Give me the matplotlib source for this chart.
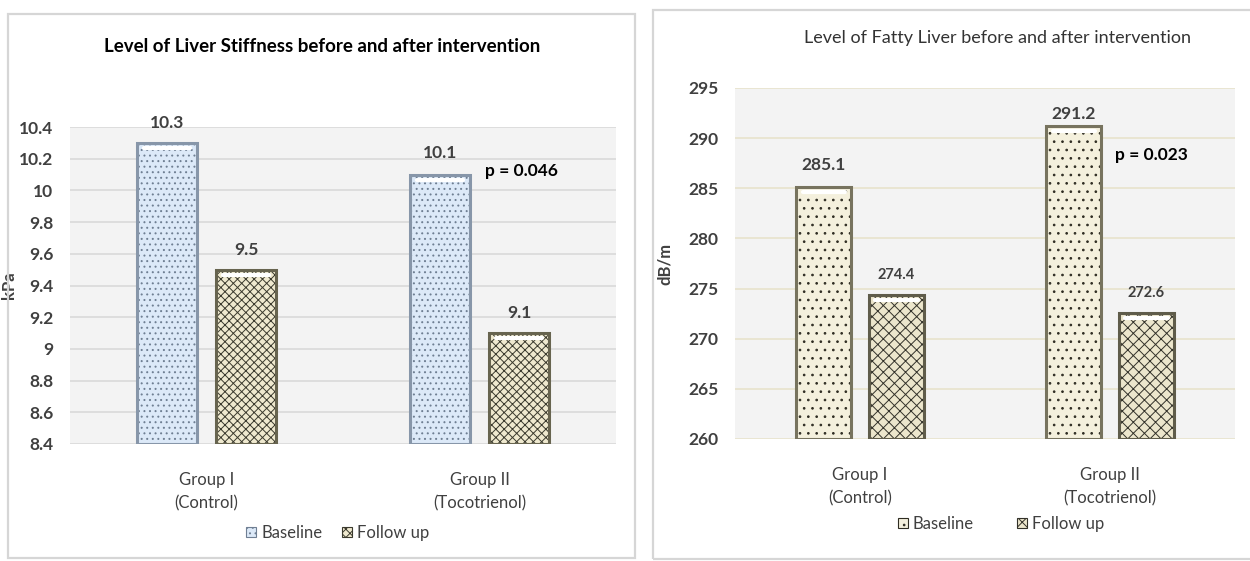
import matplotlib.pyplot as plt
from matplotlib.patches import Rectangle
from matplotlib.transforms import ScaledTranslation

# ===========================
# DATA
# ===========================
groups = ["Group I\n(Control)", "Group II\n(Tocotrienol)"]
series = ["Baseline", "Follow up"]

stiffness_baseline = [10.3, 10.1]
stiffness_followup = [9.5, 9.1]
stiffness_ticks = [8.4, 8.6, 8.8, 9.0, 9.2, 9.4, 9.6, 9.8, 10.0, 10.2, 10.4]
stiffness_tick_labels = ["8.4", "8.6", "8.8", "9", "9.2", "9.4", "9.6", "9.8", "10", "10.2", "10.4"]
stiffness_p = "p = 0.046"

fatty_baseline = [285.1, 291.2]
fatty_followup = [274.4, 272.6]
fatty_ticks = [260, 265, 270, 275, 280, 285, 290, 295]
fatty_p = "p = 0.023"

plt.rcParams["font.family"] = ["Lato", "DejaVu Sans"]
plt.rcParams["hatch.linewidth"] = 0.7

W, H = 1250, 561
fig = plt.figure(figsize=(W / 100, H / 100), dpi=100)
fig.patch.set_facecolor("white")


def px_axes(x0, y0, x1, y1):
    """Axes from pixel box (top-left origin)."""
    return fig.add_axes([x0 / W, 1 - y1 / H, (x1 - x0) / W, (y1 - y0) / H])


def panel_frame(x0, y0, x1, y1):
    fig.patches.append(Rectangle((x0 / W, 1 - y1 / H), (x1 - x0) / W, (y1 - y0) / H,
                                 transform=fig.transFigure, fill=False,
                                 edgecolor="#d6d6d6", linewidth=1.6))


def draw_bars(ax, xs, values, base, fill, hatch, hatch_col, edge):
    # hatch layer, then bevel-ish outline and a highlight under the top edge
    ax.bar(xs, [v - base for v in values], bottom=base, width=0.22,
           color=fill, hatch=hatch, edgecolor=hatch_col, linewidth=0, zorder=3)
    ax.bar(xs, [v - base for v in values], bottom=base, width=0.22,
           fill=False, edgecolor=edge, linewidth=2.2, zorder=4)
    shift = ax.transData + ScaledTranslation(0, -5 / 100, fig.dpi_scale_trans)
    for x, v in zip(xs, values):
        ax.plot([x - 0.085, x + 0.085], [v, v], color="white", linewidth=3,
                solid_capstyle="round", transform=shift, zorder=5)


def style_axes(ax, grid_col):
    ax.set_facecolor("#f3f3f3")
    for s in ax.spines.values():
        s.set_visible(False)
    ax.yaxis.grid(True, color=grid_col, linewidth=1.2, zorder=0)
    ax.set_axisbelow(True)
    ax.tick_params(length=0)
    ax.set_xlim(-0.5, 1.5)
    ax.set_xticks([0, 1])
    ax.set_xticklabels(groups, fontsize=12, color="#404040", linespacing=1.6)
    ax.tick_params(axis="x", pad=20)
    ax.tick_params(axis="y", pad=12, labelsize=12.5, labelcolor="#404040")


def value_labels(ax, xs, values, fmt, size, offsets):
    for x, v, off in zip(xs, values, offsets):
        ax.annotate(fmt.format(v), (x, v), xytext=(0, off), textcoords="offset pixels",
                    ha="center", va="center", fontsize=size, fontweight="bold",
                    color="#404040")


off_b, off_f = -0.145, 0.145
xb = [i + off_b for i in range(len(groups))]
xf = [i + off_f for i in range(len(groups))]

# ===========================
# LIVER STIFFNESS
# ===========================
panel_frame(8, 14, 635, 558)
ax1 = px_axes(70, 127, 616, 444)
style_axes(ax1, "#d9d9d9")
ax1.set_ylim(stiffness_ticks[0], stiffness_ticks[-1])
ax1.set_yticks(stiffness_ticks)
ax1.set_yticklabels(stiffness_tick_labels)
for lab in ax1.get_yticklabels():
    lab.set_fontweight("bold")

draw_bars(ax1, xb, stiffness_baseline, stiffness_ticks[0], "#dce9f8", "...", "#6f7f93", "#8796a9")
draw_bars(ax1, xf, stiffness_followup, stiffness_ticks[0], "#efe9cf", "xxxx", "#3b3a2e", "#67644f")
value_labels(ax1, xb, stiffness_baseline, "{:.1f}", 12.5, [20, 22])
value_labels(ax1, xf, stiffness_followup, "{:.1f}", 12.5, [20, 20])
ax1.text(1.02, 10.12, stiffness_p, fontsize=12.5, fontweight="bold", color="black",
         ha="left", va="center")
ax1.set_ylabel("kPa", fontsize=12, fontweight="bold", color="#404040")
ax1.yaxis.set_label_coords((17 - 70) / 546, 0.5)
ax1.set_title("Level of Liver Stiffness before and after intervention",
              fontsize=13.5, fontweight="bold", color="black", pad=0,
              x=(322 - 70) / 546, y=1 + (127 - 46) / 317, va="center")

h1 = [Rectangle((0, 0), 1, 1, facecolor="#dce9f8", edgecolor="#6f7f93", hatch="...", linewidth=0.8),
      Rectangle((0, 0), 1, 1, facecolor="#efe9cf", edgecolor="#3b3a2e", hatch="xxxx", linewidth=0.8)]
ax1.legend(h1, series, loc="center", bbox_to_anchor=((338 - 70) / 546, (444 - 533) / 317),
           ncol=2, frameon=False, fontsize=12, handlelength=0.6, handleheight=0.6,
           handletextpad=0.3, columnspacing=1.2, labelcolor="#404040")

# ===========================
# FATTY LIVER
# ===========================
panel_frame(653, 10, 1262, 559)
ax2 = px_axes(735, 88, 1235, 439)
style_axes(ax2, "#e8e3cc")
ax2.set_ylim(fatty_ticks[0], fatty_ticks[-1])
ax2.set_yticks(fatty_ticks)
for lab in ax2.get_yticklabels():
    lab.set_fontweight("bold")

draw_bars(ax2, xb, fatty_baseline, fatty_ticks[0], "#f4f0dd", "..", "#2e2c22", "#77735e")
draw_bars(ax2, xf, fatty_followup, fatty_ticks[0], "#ece6cc", "xxx", "#33322a", "#5f5c4a")
value_labels(ax2, xb, fatty_baseline, "{:.1f}", 12.5, [22, 12])
value_labels(ax2, xf, fatty_followup, "{:.1f}", 10.5, [20, 20])
ax2.text(1.02, 288.3, fatty_p, fontsize=12.5, fontweight="bold", color="black",
         ha="left", va="center")
ax2.set_ylabel("dB/m", fontsize=12, fontweight="bold", color="#404040")
ax2.yaxis.set_label_coords((673 - 735) / 500, 0.5)
ax2.set_title("Level of Fatty Liver before and after intervention",
              fontsize=13, color="#333333", pad=0,
              x=(997 - 735) / 500, y=1 + (88 - 38) / 351, va="center")

h2 = [Rectangle((0, 0), 1, 1, facecolor="#f4f0dd", edgecolor="#2e2c22", hatch="..", linewidth=0.8),
      Rectangle((0, 0), 1, 1, facecolor="#ece6cc", edgecolor="#33322a", hatch="xxx", linewidth=0.8)]
ax2.legend(h2, series, loc="center", bbox_to_anchor=((1001 - 735) / 500, (439 - 524) / 351),
           ncol=2, frameon=False, fontsize=12, handlelength=0.6, handleheight=0.6,
           handletextpad=0.3, columnspacing=2.6, labelcolor="#404040")

fig.savefig("out.png", dpi=100)
